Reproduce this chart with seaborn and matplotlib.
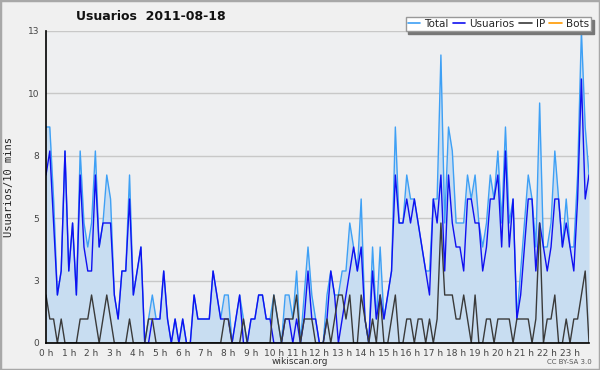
import matplotlib
matplotlib.use("Agg")
import matplotlib.pyplot as plt
import seaborn as sns
import pandas as pd
from matplotlib.ticker import FixedLocator, MultipleLocator
from matplotlib.lines import Line2D
from matplotlib.patches import Rectangle

# ---- data (10-minute slots, 2011-08-18) ----
hour_labels = [f"{h} h" for h in range(24)]
y_tick_values = [0, 2.6, 5.2, 7.8, 10.4, 13]
y_tick_labels = ["0", "3", "5", "8", "10", "13"]

total = [
    9, 9, 6, 2, 3, 8, 3, 5, 2, 8, 5, 4,
    5, 8, 4, 5, 7, 6, 2, 1, 3, 3, 7, 2,
    3, 4, 0, 1, 2, 1, 1, 3, 1, 0, 1, 0,
    1, 0, 0, 2, 1, 1, 1, 1, 3, 2, 1, 2,
    2, 0, 1, 2, 1, 0, 1, 1, 2, 2, 1, 1,
    2, 1, 0, 2, 2, 1, 3, 0, 2, 4, 2, 1,
    0, 0, 2, 3, 2, 2, 3, 3, 5, 4, 3, 6,
    1, 0, 4, 1, 4, 1, 2, 3, 9, 5, 5, 7,
    6, 6, 5, 4, 3, 3, 6, 6, 12, 5, 9, 8,
    5, 5, 5, 7, 6, 7, 5, 4, 5, 7, 6, 8,
    5, 9, 5, 6, 1, 3, 5, 7, 6, 4, 10, 4,
    4, 5, 8, 6, 4, 6, 4, 4, 7, 13, 9, 7,
]
usuarios = [
    7, 8, 5, 2, 3, 8, 3, 5, 2, 7, 4, 3,
    3, 7, 4, 5, 5, 5, 2, 1, 3, 3, 6, 2,
    3, 4, 0, 0, 1, 1, 1, 3, 1, 0, 1, 0,
    1, 0, 0, 2, 1, 1, 1, 1, 3, 2, 1, 1,
    1, 0, 1, 2, 0, 0, 1, 1, 2, 2, 1, 1,
    0, 0, 0, 1, 1, 0, 1, 0, 1, 3, 1, 1,
    0, 0, 1, 3, 2, 0, 1, 2, 3, 4, 3, 4,
    1, 0, 3, 1, 2, 1, 2, 3, 7, 5, 5, 6,
    5, 6, 5, 4, 3, 2, 6, 5, 7, 3, 7, 5,
    4, 4, 3, 6, 6, 5, 5, 3, 4, 6, 6, 7,
    4, 8, 4, 6, 1, 2, 4, 6, 6, 3, 5, 4,
    3, 4, 6, 6, 4, 5, 4, 3, 6, 11, 6, 7,
]
ip = [
    2, 1, 1, 0, 1, 0, 0, 0, 0, 1, 1, 1,
    2, 1, 0, 1, 2, 1, 0, 0, 0, 0, 1, 0,
    0, 0, 0, 1, 1, 0, 0, 0, 0, 0, 0, 0,
    0, 0, 0, 0, 0, 0, 0, 0, 0, 0, 0, 1,
    1, 0, 0, 0, 1, 0, 0, 0, 0, 0, 0, 0,
    2, 1, 0, 1, 1, 1, 2, 0, 1, 1, 1, 0,
    0, 0, 1, 0, 1, 2, 2, 1, 2, 0, 0, 2,
    1, 0, 1, 0, 2, 0, 0, 1, 2, 0, 0, 1,
    1, 0, 1, 1, 0, 1, 0, 1, 5, 2, 2, 2,
    1, 1, 2, 1, 0, 2, 0, 0, 1, 1, 0, 1,
    1, 1, 1, 0, 1, 1, 1, 1, 0, 1, 5, 0,
    1, 1, 2, 0, 0, 1, 0, 1, 1, 2, 3, 0,
]
bots = [
    0, 0, 0, 0, 0, 0, 0, 0, 0, 0, 0, 0,
    0, 0, 0, 0, 0, 0, 0, 0, 0, 0, 0, 0,
    0, 0, 0, 0, 0, 0, 0, 0, 0, 0, 0, 0,
    0, 0, 0, 0, 0, 0, 0, 0, 0, 0, 0, 0,
    0, 0, 0, 0, 0, 0, 0, 0, 0, 0, 0, 0,
    0, 0, 0, 0, 0, 0, 0, 0, 0, 0, 0, 0,
    0, 0, 0, 0, 0, 0, 0, 0, 0, 0, 0, 0,
    0, 0, 0, 0, 0, 0, 0, 0, 0, 0, 0, 0,
    0, 0, 0, 0, 0, 0, 0, 0, 0, 0, 0, 0,
    0, 0, 0, 0, 0, 0, 0, 0, 0, 0, 0, 0,
    0, 0, 0, 0, 0, 0, 0, 0, 0, 0, 0, 0,
    0, 0, 0, 0, 0, 0, 0, 0, 0, 0, 0, 0,
]

series_names = ["Total", "Usuarios", "IP", "Bots"]
colors = {"Total": "#3ea0f5", "Usuarios": "#1010f0", "IP": "#3a3a3a", "Bots": "#ff9a00"}

slots = list(range(len(total)))
df = pd.DataFrame({"slot": slots, "Total": total, "Usuarios": usuarios,
                   "IP": ip, "Bots": bots})
long_df = df.melt(id_vars="slot", var_name="serie", value_name="valor")

sns.set_style("white")
plt.rcParams["font.family"] = ["DejaVu Sans"]

fig = plt.figure(figsize=(6, 3.7), dpi=100, facecolor="#f0f0f0")
ax = fig.add_axes([46 / 600, 1 - 343 / 370, 543 / 600, 312 / 370])
ax.set_facecolor("#eeeff1")

ax.fill_between(df["slot"], df["Total"], color="#c8ddf1", zorder=1, linewidth=0)
for name in ["Bots", "Total", "Usuarios", "IP"]:
    sub = long_df[long_df["serie"] == name]
    sns.lineplot(data=sub, x="slot", y="valor", color=colors[name],
                 linewidth=1.0, ax=ax, zorder=2, legend=False)

ax.set_xlim(0, len(total) - 1)
ax.set_ylim(0, 13)

ax.yaxis.set_major_locator(FixedLocator(y_tick_values))
ax.set_yticklabels(y_tick_labels)
ax.yaxis.set_minor_locator(MultipleLocator(0.65))
ax.xaxis.set_major_locator(FixedLocator(list(range(0, len(total), 6))))
ax.set_xticklabels(hour_labels)
ax.xaxis.set_minor_locator(MultipleLocator(1))

ax.tick_params(axis="both", which="major", direction="out", length=4, width=1,
               color="black", labelsize=6.5, labelcolor="#444444", pad=1)
ax.tick_params(axis="both", which="minor", direction="out", length=3, width=1,
               color="black")
ax.tick_params(axis="x", which="major", length=4, pad=0)

ax.grid(axis="y", which="major", color="#c8c8c8", linewidth=1)
ax.grid(axis="x", visible=False)
ax.set_axisbelow(True)

for side in ["top", "right"]:
    ax.spines[side].set_visible(False)
for side in ["left", "bottom"]:
    ax.spines[side].set_color("black")
    ax.spines[side].set_linewidth(1.2)
    ax.spines[side].set_zorder(5)

ax.set_xlabel("")
ax.set_ylabel("Usuarios/10 mins", family="DejaVu Sans Mono", fontsize=7.5,
              color="#222222", labelpad=10)

fig.text(151 / 600, 1 - 17 / 370, "Usuarios  2011-08-18", ha="center", va="center",
         fontsize=9, fontweight="bold", color="#111111")
fig.text(0.5, 1 - 362 / 370, "wikiscan.org", ha="center", va="center",
         fontsize=6.5, color="#333333")
fig.text(592 / 600, 1 - 362 / 370, "CC BY-SA 3.0", ha="right", va="center",
         fontsize=5, color="#555555")

handles = [Line2D([0], [0], color=colors[n], lw=1.2) for n in series_names]
leg = fig.legend(handles, series_names, loc="upper right", ncol=4,
                 bbox_to_anchor=(591 / 600, 1 - 17 / 370), fontsize=7.5,
                 frameon=True, fancybox=False, shadow={"color": "#777777", "alpha": 1},
                 handlelength=1.2, handletextpad=0.4, columnspacing=0.4,
                 borderpad=0.2, borderaxespad=0)
leg.get_frame().set_edgecolor("#999999")
leg.get_frame().set_facecolor("white")
leg.get_frame().set_linewidth(1)

fig.patches.append(Rectangle((0, 0), 1, 1, transform=fig.transFigure, fill=False,
                             edgecolor="#a8a8a8", linewidth=2.5, zorder=10))

fig.savefig("out.png", dpi=100, facecolor=fig.get_facecolor())
